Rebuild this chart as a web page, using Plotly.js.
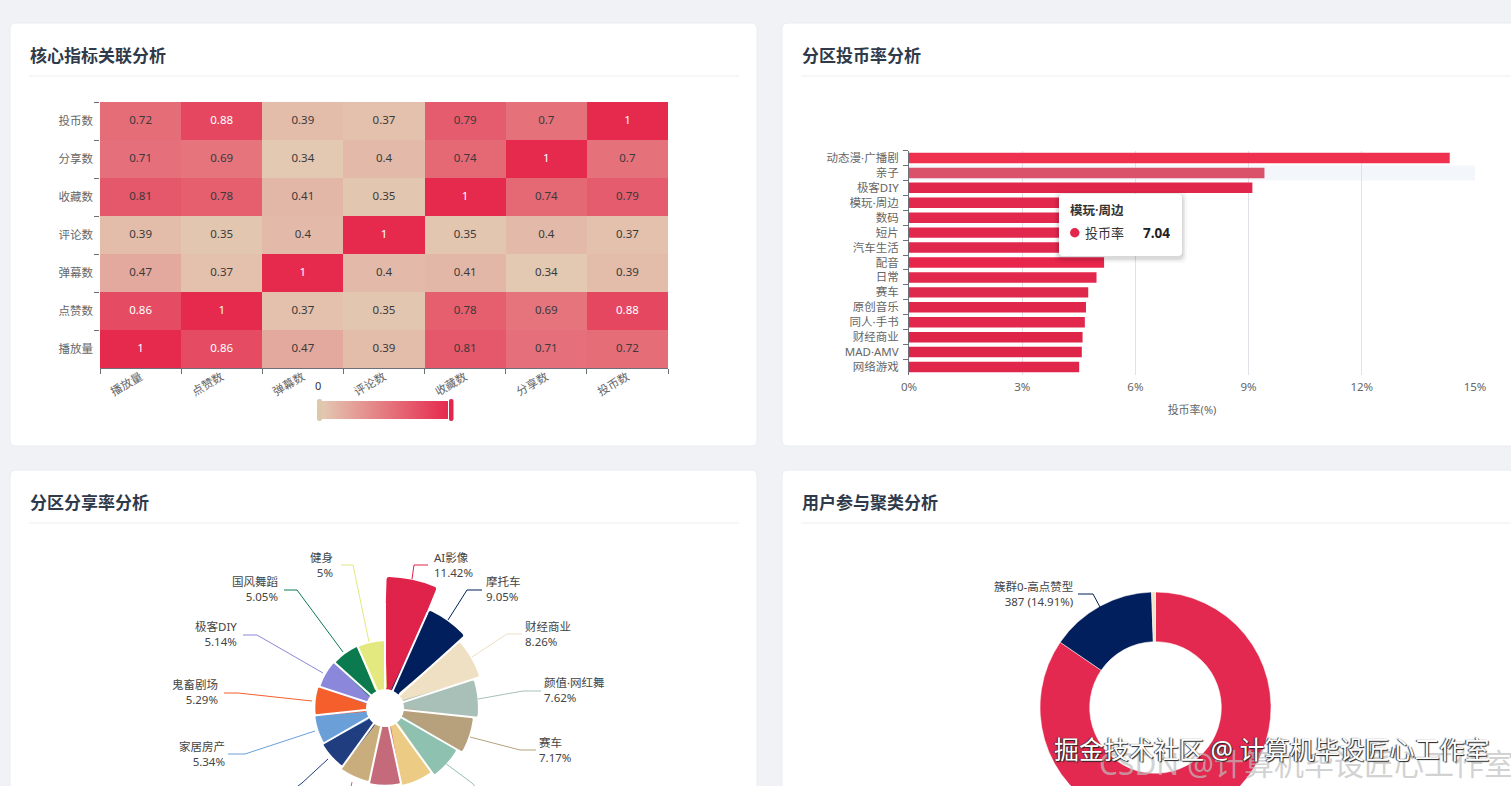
<!DOCTYPE html>
<html><head><meta charset="utf-8">
<script src="https://cdn.plot.ly/plotly-3.0.1.min.js"></script>
<style>
html,body{margin:0;padding:0;width:1511px;height:786px;overflow:hidden;background:#f0f2f6}
#chart{position:absolute;left:0;top:0;width:1600px;height:1100px}
.polarlayer path{stroke-linejoin:round}
</style></head><body><div id="chart"></div>
<script>
// ---------- data ----------
const cardTitles = ['核心指标关联分析','分区投币率分析','分区分享率分析','用户参与聚类分析'];

const metrics = ['播放量','点赞数','弹幕数','评论数','收藏数','分享数','投币数'];
const corrPlay   = [1,0.86,0.47,0.39,0.81,0.71,0.72];
const corrLike   = [0.86,1,0.37,0.35,0.78,0.69,0.88];
const corrDanmu  = [0.47,0.37,1,0.4,0.41,0.34,0.39];
const corrComment= [0.39,0.35,0.4,1,0.35,0.4,0.37];
const corrFav    = [0.81,0.78,0.41,0.35,1,0.74,0.79];
const corrShare  = [0.71,0.69,0.34,0.4,0.74,1,0.7];
const corrCoin   = [0.72,0.88,0.39,0.37,0.79,0.7,1];

const coinCats = ['动态漫·广播剧','亲子','极客DIY','模玩·周边','数码','短片','汽车生活','配音','日常','赛车','原创音乐','同人·手书','财经商业','MAD·AMV','网络游戏'];
const coinVals = [14.33,9.42,9.1,7.04,6.2,5.7,5.25,5.17,4.97,4.75,4.69,4.66,4.6,4.58,4.51];
const coinCols = ['#f0304f','#d9526a','#e0264a','#e3284e','#e3284e','#e3284e','#e0284c','#e8264c','#e3284e','#de284c','#e0264a','#e3284e','#de2449','#de2449','#e0264a'];
const xTickVals = [0,3,6,9,12,15];

const shareCats = ['AI影像','摩托车','财经商业','颜值·网红舞','赛车','分区06','分区07','分区08','分区09','分区10','家居房产','鬼畜剧场','极客DIY','国风舞蹈','健身'];
const shareVals = [11.42,9.05,8.26,7.62,7.17,6.6,6.2,6.0,5.8,5.5,5.34,5.29,5.14,5.05,5];
const shareCols = ['#e0234a','#001f5c','#efe0c3','#a8c0b7','#b7a07c','#8fc1b0','#eccb85','#c46a7a','#c9ad7c','#1f3d7f','#6a9fd8','#f55f2b','#8b88dc','#0b7a4e','#e3e97f'];

const clusterCats = ['簇群1','簇群0-高点赞型','簇群2'];
const clusterVals = [2195,387,14];
const clusterCols = ['#e3294f','#001f5c','#efe3c8'];

// ---------- helpers ----------
const W=1600,H=1100;
const px=x=>x/W, py=y=>1-y/H;
const TXT='"Noto Sans","Noto Sans CJK SC",sans-serif';
function rr(x0,y0,x1,y1,r){
  const X=px,Y=py;
  return `M ${X(x0+r)} ${Y(y0)} L ${X(x1-r)} ${Y(y0)} Q ${X(x1)} ${Y(y0)} ${X(x1)} ${Y(y0+r)} L ${X(x1)} ${Y(y1-r)} Q ${X(x1)} ${Y(y1)} ${X(x1-r)} ${Y(y1)} L ${X(x0+r)} ${Y(y1)} Q ${X(x0)} ${Y(y1)} ${X(x0)} ${Y(y1-r)} L ${X(x0)} ${Y(y0+r)} Q ${X(x0)} ${Y(y0)} ${X(x0+r)} ${Y(y0)} Z`;
}
const shapes=[],ann=[];
function box(x0,y0,x1,y1,r,fill,layer,line,op){
  shapes.push({type:'path',xref:'paper',yref:'paper',path:rr(x0,y0,x1,y1,r),fillcolor:fill,opacity:op==null?1:op,
    line:line?{color:line,width:1}:{width:0},layer:layer||'below'});
}
function seg(pts,color,width,layer,op){
  for(let i=0;i<pts.length-1;i++)
    shapes.push({type:'line',xref:'paper',yref:'paper',x0:px(pts[i][0]),y0:py(pts[i][1]),x1:px(pts[i+1][0]),y1:py(pts[i+1][1]),
      line:{color,width:width||1},layer:layer||'above',opacity:op==null?1:op});
}
function label(text,x,y,anchor,size,color,weight,extra){
  ann.push({xref:'paper',yref:'paper',x:px(x),y:py(y),text,showarrow:false,xanchor:anchor,yanchor:'middle',align:anchor,borderpad:0,
    font:Object.assign({family:TXT,size,color,weight:weight||400},extra||{})});
}

// cards
[[10,23,757,446],[782,23,1590,446],[10,470,757,1090],[782,470,1590,1090]].forEach((c,i)=>{
  box(c[0],c[1],c[2],c[3],6,'#ffffff','below','#e9ecf1');
  const tx=c[0]+19, ty=c[1]+32.5, dy=c[1]+53;
  label(cardTitles[i],tx,ty,'left',17,'#2f3a4a',700);
  seg([[tx,dy],[i%2?1560:739,dy]],'#eceef2',1,'below');
});

// heatmap helpers
const corrRows=[corrPlay,corrLike,corrDanmu,corrComment,corrFav,corrShare,corrCoin];
const textX=[],textY=[],textV=[],textC=[];
corrRows.forEach((row,j)=>row.forEach((v,i)=>{textX.push(metrics[i]);textY.push(metrics[j]);textV.push(String(v));textC.push(v>=0.86?'#ffffff':'#3a3a3a');}));

// visual map handles and label
box(317,399,322,421,2,'#dcc9ab','above');
box(449,399,453.5,421,2,'#e3264c','above');
label('0',318,386,'center',11,'#333333');

// bar chart hover band
shapes.push({type:'rect',xref:'paper',yref:'paper',x0:px(909),x1:px(1475),y0:py(165.5),y1:py(180.5),fillcolor:'#f3f6fb',line:{width:0},layer:'below'});

// tooltip
[[5,.03],[3,.05],[1.5,.07]].forEach(s=>box(1059-s[0],194-s[0]+2,1182+s[0],256+s[0]+2,6,'#000000','above',null,s[1]));
box(1059,194,1182,256,4,'#ffffff','above');
shapes.push({type:'circle',xref:'paper',yref:'paper',x0:px(1070),x1:px(1079.5),y0:py(228),y1:py(237.5),fillcolor:'#e3264c',line:{width:0},layer:'above'});
label('模玩·周边',1069,211,'left',12.5,'#333333',600);
label('投币率',1084,233,'left',13,'#333333');
label('7.04',1171,233,'right',13.5,'#222222',700);

// rose separators: constant-width gaps between the rounded sectors
const roseCx=385, roseCy=708;
shareCats.forEach((c,i)=>{
  const a=i*2*Math.PI/shareCats.length;
  seg([[roseCx+15*Math.sin(a),roseCy-15*Math.cos(a)],[roseCx+105*Math.sin(a),roseCy-105*Math.cos(a)]],'#ffffff',2,'above');
});

// rose labels + leader lines
const roseLabelNames=['AI影像','摩托车','财经商业','颜值·网红舞','赛车','家居房产','鬼畜剧场','极客DIY','国风舞蹈','健身'];
const roseLabelPcts=['11.42%','9.05%','8.26%','7.62%','7.17%','5.34%','5.29%','5.14%','5.05%','5%'];
const roseLabelPos=[['left',433,565],['left',485,589],['left',524,634],['left',543,690],['left',538,750],['right',226,754],['right',219,692],['right',238,634],['right',279,589],['right',334,565]];
roseLabelNames.forEach((n,i)=>{
  const p=roseLabelPos[i];
  label(n+'<br>'+roseLabelPcts[i],p[1],p[2],p[0],11.5,'#444444');
});
const leaders=[
 [0,[[412,579],[414,565],[428,565]]],
 [1,[[448,620],[467,590],[482,590]]],
 [2,[[472,657],[507,634],[522,634]]],
 [3,[[478,699],[523,691],[541,691]]],
 [4,[[470,737],[520,750],[536,750]]],
 [5,[[445,763],[472,783],[480,792]]],
 [7,[[352,782],[350,792]]],
 [9,[[328,759],[302,783],[290,792]]],
 [10,[[315,731],[245,754],[228,754]]],
 [11,[[312,701],[238,693],[224,693]]],
 [12,[[323,673],[257,635],[243,635]]],
 [13,[[343,652],[297,590],[284,590]]],
 [14,[[369,642],[353,565],[341,565]]]
];
leaders.forEach(l=>seg(l[1],shareCols[l[0]],1,'above'));

// donut label
label('簇群0-高点赞型<br>387 (14.91%)',1074,594,'right',11.5,'#444444');
seg([[1078,594],[1093,594],[1100,607]],'#001f5c',1);

// watermarks
label('CSDN @计算机毕设匠心工作室',1098,763,'left',30,'rgba(190,190,190,0.7)');
label('掘金技术社区 @ 计算机毕设匠心工作室',1053,749,'left',25,'#ffffff',400,{shadow:'1px 1px 1px #222, -1px 0 1px #333'});

// ---------- traces ----------
const roseBase=0.72;
const traces=[
 {type:'heatmap',x:metrics,y:metrics,z:corrRows,xaxis:'x',yaxis:'y',zmin:0.34,zmax:1,hoverinfo:'skip',
  colorscale:[[0,'#e3c8b2'],[1,'#e62a4e']],
  colorbar:{orientation:'h',xref:'paper',yref:'paper',x:px(385),xanchor:'center',y:py(410),yanchor:'middle',
    lenmode:'pixels',len:126,thicknessmode:'pixels',thickness:18,showticklabels:false,ticks:'',outlinewidth:0,borderwidth:0,xpad:0,ypad:0}},
 {type:'scatter',mode:'text',x:textX,y:textY,text:textV,xaxis:'x',yaxis:'y',hoverinfo:'skip',
  textfont:{family:TXT,size:11.5,color:textC},textposition:'middle center',showlegend:false},
 {type:'bar',orientation:'h',x:coinVals,y:coinCats,xaxis:'x2',yaxis:'y2',marker:{color:coinCols},hoverinfo:'skip',showlegend:false},
 {type:'barpolar',subplot:'polar',r:shareVals.map(v=>v-roseBase),base:roseBase,theta:shareCats,width:0.85,
  marker:{color:shareCols,line:{color:shareCols,width:5}},hoverinfo:'skip',showlegend:false},
 {type:'pie',labels:clusterCats,values:clusterVals,sort:false,direction:'clockwise',rotation:0,hole:0.57,
  marker:{colors:clusterCols,line:{color:'#ffffff',width:0.5}},textinfo:'none',hoverinfo:'skip',showlegend:false,
  domain:{x:[px(1155.5-115.5),px(1155.5+115.5)],y:[py(707.5+115.5),py(707.5-115.5)]}}
];

const tickFont={family:TXT,size:11.5,color:'#666666'};
const layout={
 width:W,height:H,autosize:false,margin:{l:0,r:0,t:0,b:0,pad:0},
 paper_bgcolor:'#f0f2f6',plot_bgcolor:'rgba(0,0,0,0)',showlegend:false,font:{family:TXT},
 xaxis:{domain:[px(100),px(668)],anchor:'y',type:'category',categoryorder:'array',categoryarray:metrics,tickson:'boundaries',
   ticks:'outside',ticklen:5,tickcolor:'#6e7079',showline:true,linecolor:'#6e7079',showgrid:false,zeroline:false,tickangle:-30,tickfont:tickFont,ticklabelstandoff:-3},
 yaxis:{domain:[py(368),py(102)],anchor:'x',type:'category',categoryorder:'array',categoryarray:metrics,tickson:'boundaries',
   ticks:'outside',ticklen:5,tickcolor:'#6e7079',showline:false,showgrid:false,zeroline:false,tickfont:tickFont,ticklabelstandoff:6},
 xaxis2:{domain:[px(909),px(1475)],anchor:'y2',range:[0,15],tickmode:'array',tickvals:xTickVals,ticktext:xTickVals.map(v=>v+'%'),
   showgrid:true,gridcolor:'#e0e2e8',zeroline:false,showline:false,ticks:'',tickfont:tickFont,ticklabelstandoff:4,
   title:{text:'投币率(%)',font:{family:TXT,size:11,color:'#666666'},standoff:13}},
 yaxis2:{domain:[py(374.5),py(150.5)],anchor:'x2',type:'category',categoryorder:'array',categoryarray:coinCats,autorange:false,range:[14.5,-0.5],
   tickson:'boundaries',ticks:'outside',ticklen:5,tickcolor:'#6e7079',showline:true,linecolor:'#6e7079',showgrid:false,zeroline:false,tickfont:tickFont,ticklabelstandoff:7},
 bargap:0.3,
 polar:{domain:{x:[px(385-134.3),px(385+134.3)],y:[py(708+134.3),py(708-134.3)]},hole:14.3/134.3,bgcolor:'rgba(0,0,0,0)',barmode:'overlay',
   radialaxis:{range:[0,12],visible:false},
   angularaxis:{type:'category',categoryorder:'array',categoryarray:shareCats,direction:'clockwise',rotation:78,visible:false}},
 shapes:shapes,annotations:ann
};
Plotly.newPlot('chart',traces,layout,{displayModeBar:false,responsive:false});
</script></body></html>
